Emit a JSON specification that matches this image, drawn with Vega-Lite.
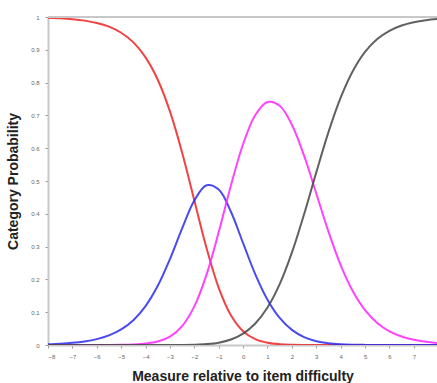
{
  "$schema": "https://vega.github.io/schema/vega-lite/v6.json",
  "autosize": "none",
  "padding": {"left": 48, "top": 17, "right": 0, "bottom": 38},
  "width": 389,
  "height": 328,
  "background": "white",
  "config": {
    "view": {"stroke": null},
    "font": "Liberation Sans",
    "axis": {
      "titleFont": "Liberation Sans", "titleFontSize": 14, "titleFontWeight": "bold", "titleColor": "#222",
      "titlePadding": 10,
      "labelFontSize": 6, "labelColor": "#666", "labelOverlap": false,
      "domainColor": "#c8c8c8", "domainWidth": 2,
      "tickColor": "#999", "tickSize": 3, "grid": false
    },
    "axisX": {"labelPadding": 5},
    "axisY": {"labelPadding": 6}
  },
  "datasets": {
    "curves": [
      {"x": -8, "cat": "0", "p": 0.99753}, {"x": -7.5, "cat": "0", "p": 0.99593}, {"x": -7, "cat": "0", "p": 0.99330}, {"x": -6.5, "cat": "0", "p": 0.98898},
      {"x": -6, "cat": "0", "p": 0.98193}, {"x": -5.5, "cat": "0", "p": 0.97046}, {"x": -5, "cat": "0", "p": 0.95197}, {"x": -4.5, "cat": "0", "p": 0.92261},
      {"x": -4, "cat": "0", "p": 0.87701}, {"x": -3.5, "cat": "0", "p": 0.80877}, {"x": -3, "cat": "0", "p": 0.71218}, {"x": -2.5, "cat": "0", "p": 0.58642},
      {"x": -2, "cat": "0", "p": 0.44069}, {"x": -1.5, "cat": "0", "p": 0.29550}, {"x": -1, "cat": "0", "p": 0.17442}, {"x": -0.5, "cat": "0", "p": 0.09065},
      {"x": 0, "cat": "0", "p": 0.04202}, {"x": 0.5, "cat": "0", "p": 0.01769}, {"x": 1, "cat": "0", "p": 0.00687}, {"x": 1.5, "cat": "0", "p": 0.00249},
      {"x": 2, "cat": "0", "p": 0.00084}, {"x": 2.5, "cat": "0", "p": 0.00027}, {"x": 3, "cat": "0", "p": 0.00008}, {"x": 3.5, "cat": "0", "p": 0.00002},
      {"x": 4, "cat": "0", "p": 0}, {"x": 4.5, "cat": "0", "p": 0}, {"x": 5, "cat": "0", "p": 0}, {"x": 5.5, "cat": "0", "p": 0},
      {"x": 6, "cat": "0", "p": 0}, {"x": 6.5, "cat": "0", "p": 0}, {"x": 7, "cat": "0", "p": 0}, {"x": 7.5, "cat": "0", "p": 0}, {"x": 8, "cat": "0", "p": 0},

      {"x": -8, "cat": "1", "p": 0.00247}, {"x": -7.5, "cat": "1", "p": 0.00407}, {"x": -7, "cat": "1", "p": 0.00669}, {"x": -6.5, "cat": "1", "p": 0.01099},
      {"x": -6, "cat": "1", "p": 0.01798}, {"x": -5.5, "cat": "1", "p": 0.02931}, {"x": -5, "cat": "1", "p": 0.04740}, {"x": -4.5, "cat": "1", "p": 0.07573},
      {"x": -4, "cat": "1", "p": 0.11869}, {"x": -3.5, "cat": "1", "p": 0.18046}, {"x": -3, "cat": "1", "p": 0.26200}, {"x": -2.5, "cat": "1", "p": 0.35568},
      {"x": -2, "cat": "1", "p": 0.44069}, {"x": -1.5, "cat": "1", "p": 0.48720}, {"x": -1, "cat": "1", "p": 0.47412}, {"x": -0.5, "cat": "1", "p": 0.40625},
      {"x": 0, "cat": "1", "p": 0.31045}, {"x": 0.5, "cat": "1", "p": 0.21549}, {"x": 1, "cat": "1", "p": 0.13808}, {"x": 1.5, "cat": "1", "p": 0.08248},
      {"x": 2, "cat": "1", "p": 0.04605}, {"x": 2.5, "cat": "1", "p": 0.02400}, {"x": 3, "cat": "1", "p": 0.01165}, {"x": 3.5, "cat": "1", "p": 0.00529},
      {"x": 4, "cat": "1", "p": 0.00226}, {"x": 4.5, "cat": "1", "p": 0.00092}, {"x": 5, "cat": "1", "p": 0.00036}, {"x": 5.5, "cat": "1", "p": 0.00014},
      {"x": 6, "cat": "1", "p": 0.00005}, {"x": 6.5, "cat": "1", "p": 0.00002}, {"x": 7, "cat": "1", "p": 0}, {"x": 7.5, "cat": "1", "p": 0}, {"x": 8, "cat": "1", "p": 0},

      {"x": -8, "cat": "2", "p": 0}, {"x": -7.5, "cat": "2", "p": 0}, {"x": -7, "cat": "2", "p": 0.00001}, {"x": -6.5, "cat": "2", "p": 0.00003},
      {"x": -6, "cat": "2", "p": 0.00009}, {"x": -5.5, "cat": "2", "p": 0.00024}, {"x": -5, "cat": "2", "p": 0.00063}, {"x": -4.5, "cat": "2", "p": 0.00166},
      {"x": -4, "cat": "2", "p": 0.00429}, {"x": -3.5, "cat": "2", "p": 0.01076}, {"x": -3, "cat": "2", "p": 0.02575}, {"x": -2.5, "cat": "2", "p": 0.05763},
      {"x": -2, "cat": "2", "p": 0.11772}, {"x": -1.5, "cat": "2", "p": 0.21458}, {"x": -1, "cat": "2", "p": 0.34428}, {"x": -0.5, "cat": "2", "p": 0.48637},
      {"x": 0, "cat": "2", "p": 0.61279}, {"x": 0.5, "cat": "2", "p": 0.70127}, {"x": 1, "cat": "2", "p": 0.74086}, {"x": 1.5, "cat": "2", "p": 0.72963},
      {"x": 2, "cat": "2", "p": 0.67170}, {"x": 2.5, "cat": "2", "p": 0.57711}, {"x": 3, "cat": "2", "p": 0.46206}, {"x": 3.5, "cat": "2", "p": 0.34567},
      {"x": 4, "cat": "2", "p": 0.24361}, {"x": 4.5, "cat": "2", "p": 0.16368}, {"x": 5, "cat": "2", "p": 0.10618}, {"x": 5.5, "cat": "2", "p": 0.06720},
      {"x": 6, "cat": "2", "p": 0.04188}, {"x": 6.5, "cat": "2", "p": 0.02583}, {"x": 7, "cat": "2", "p": 0.01583}, {"x": 7.5, "cat": "2", "p": 0.00966}, {"x": 8, "cat": "2", "p": 0.00588},

      {"x": -8, "cat": "3", "p": 0}, {"x": -7.5, "cat": "3", "p": 0}, {"x": -7, "cat": "3", "p": 0}, {"x": -6.5, "cat": "3", "p": 0},
      {"x": -6, "cat": "3", "p": 0}, {"x": -5.5, "cat": "3", "p": 0}, {"x": -5, "cat": "3", "p": 0}, {"x": -4.5, "cat": "3", "p": 0},
      {"x": -4, "cat": "3", "p": 0.00001}, {"x": -3.5, "cat": "3", "p": 0.00002}, {"x": -3, "cat": "3", "p": 0.00007}, {"x": -2.5, "cat": "3", "p": 0.00027},
      {"x": -2, "cat": "3", "p": 0.00090}, {"x": -1.5, "cat": "3", "p": 0.00271}, {"x": -1, "cat": "3", "p": 0.00718}, {"x": -0.5, "cat": "3", "p": 0.01673},
      {"x": 0, "cat": "3", "p": 0.03474}, {"x": 0.5, "cat": "3", "p": 0.06556}, {"x": 1, "cat": "3", "p": 0.11418}, {"x": 1.5, "cat": "3", "p": 0.18540},
      {"x": 2, "cat": "3", "p": 0.28141}, {"x": 2.5, "cat": "3", "p": 0.39863}, {"x": 3, "cat": "3", "p": 0.52621}, {"x": 3.5, "cat": "3", "p": 0.64903},
      {"x": 4, "cat": "3", "p": 0.75413}, {"x": 4.5, "cat": "3", "p": 0.83540}, {"x": 5, "cat": "3", "p": 0.89346}, {"x": 5.5, "cat": "3", "p": 0.93268},
      {"x": 6, "cat": "3", "p": 0.95806}, {"x": 6.5, "cat": "3", "p": 0.97415}, {"x": 7, "cat": "3", "p": 0.98417}, {"x": 7.5, "cat": "3", "p": 0.99034}, {"x": 8, "cat": "3", "p": 0.99412}
    ],
    "top": [{"y": 1}]
  },
  "layer": [
    {
      "data": {"name": "curves"},
      "mark": {"type": "line", "interpolate": "catmull-rom", "strokeWidth": 2, "clip": true, "opacity": 0.85},
      "encoding": {
        "x": {
          "field": "x", "type": "quantitative",
          "scale": {"domain": [-8, 7.95], "nice": false, "zero": false},
          "axis": {
            "values": [-8, -7, -6, -5, -4, -3, -2, -1, 0, 1, 2, 3, 4, 5, 6, 7],
            "format": "~g",
            "title": "Measure relative to item difficulty"
          }
        },
        "y": {
          "field": "p", "type": "quantitative",
          "scale": {"domain": [0, 1], "nice": false},
          "axis": {
            "values": [0, 0.1, 0.2, 0.3, 0.4, 0.5, 0.6, 0.7, 0.8, 0.9, 1],
            "format": "~g",
            "title": "Category Probability"
          }
        },
        "color": {
          "field": "cat", "type": "nominal",
          "scale": {"domain": ["0", "1", "2", "3"], "range": ["#ee2222", "#2a2aee", "#ff22ff", "#444444"]},
          "legend": null
        }
      }
    },
    {
      "data": {"name": "top"},
      "mark": {"type": "rule", "color": "#c8c8c8", "strokeWidth": 2},
      "encoding": {
        "y": {
          "field": "y", "type": "quantitative",
          "axis": {
            "values": [0, 0.1, 0.2, 0.3, 0.4, 0.5, 0.6, 0.7, 0.8, 0.9, 1],
            "format": "~g",
            "title": "Category Probability"
          }
        }
      }
    }
  ]
}
